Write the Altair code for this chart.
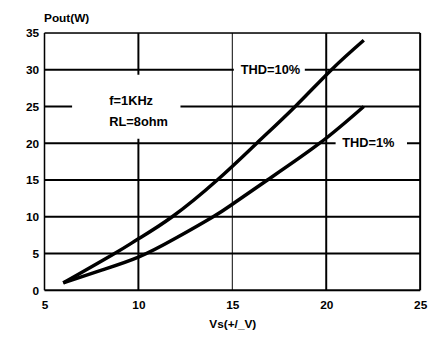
import altair as alt
import pandas as pd

# Curve data
thd10_x = [6, 8.73, 10, 11.8, 14.2, 16.3, 18.35, 20.28, 22]
thd10_y = [1, 5, 7, 10, 15, 20, 25, 30, 34]
thd1_x = [6, 8, 10, 12, 13.98, 15, 16.87, 19.65, 22]
thd1_y = [1, 2.7, 4.5, 7.1, 10, 11.7, 15, 20, 25]

x_ticks = [5, 10, 15, 20, 25]
y_ticks = [0, 5, 10, 15, 20, 25, 30, 35]

# Grid lines and frame (x=15 is drawn thinner in the original)
vgrid_x = [5, 10, 15, 20, 25]
vgrid_w = [1.5, 2, 1, 2, 2]
hgrid_y = [0, 5, 10, 15, 20, 25, 30, 35]
hgrid_w = [2, 2, 2, 2, 2, 2, 2, 1.5]

# Annotation labels and their white backing boxes
label_text = ["f=1KHz", "RL=8ohm", "THD=10%", "THD=1%"]
label_x = [8.45, 8.45, 15.45, 20.85]
label_y = [25.7, 22.9, 30, 20]
box_x1 = [6.47, 15.08, 20.5]
box_x2 = [12.24, 18.86, 24.3]
box_y1 = [20.6, 29.0, 19.0]
box_y2 = [29.3, 31.0, 21.0]

FONT = "Liberation Sans"
FS = 12

curves = pd.DataFrame(
    {"x": thd10_x + thd1_x,
     "y": thd10_y + thd1_y,
     "s": ["THD=10%"] * len(thd10_x) + ["THD=1%"] * len(thd1_x),
     "o": list(range(len(thd10_x))) + list(range(len(thd1_x)))}
)
vgrid = pd.DataFrame({"x": vgrid_x, "w": vgrid_w})
hgrid = pd.DataFrame({"y": hgrid_y, "w": hgrid_w})
boxes = pd.DataFrame({"x1": box_x1, "x2": box_x2, "y1": box_y1, "y2": box_y2})
labels = pd.DataFrame({"t": label_text, "x": label_x, "y": label_y})

xs = alt.Scale(domain=[5, 25], nice=False, zero=False)
ys = alt.Scale(domain=[0, 35], nice=False, zero=False)

xaxis = alt.Axis(values=x_ticks, grid=False, ticks=False, domain=False,
                 labelOverlap=False, labelFlush=False,
                 labelFont=FONT, labelFontSize=FS, labelFontWeight="bold",
                 labelColor="black", labelPadding=9,
                 title="Vs(+/_V)", titleFont=FONT, titleFontSize=FS,
                 titleFontWeight="bold", titleColor="black", titlePadding=9)
yaxis = alt.Axis(values=y_ticks, grid=False, ticks=False, domain=False,
                 labelOverlap=False, labelFlush=False,
                 labelFont=FONT, labelFontSize=FS, labelFontWeight="bold",
                 labelColor="black", labelPadding=6,
                 title="Pout(W)", titleFont=FONT, titleFontSize=FS,
                 titleFontWeight="bold", titleColor="black", titleAngle=0,
                 titleAnchor="end", titleAlign="left", titleBaseline="bottom",
                 titleX=-1, titleY=-9)

X = lambda f: alt.X(f, scale=xs, axis=xaxis)
Y = lambda f: alt.Y(f, scale=ys, axis=yaxis)

vg = alt.Chart(vgrid).mark_rule(color="black").encode(
    x=X("x:Q"),
    strokeWidth=alt.StrokeWidth("w:Q", scale=None, legend=None),
)
hg = alt.Chart(hgrid).mark_rule(color="black").encode(
    y=Y("y:Q"),
    strokeWidth=alt.StrokeWidth("w:Q", scale=None, legend=None),
)
bx = alt.Chart(boxes).mark_rect(color="white").encode(
    x=X("x1:Q"), x2="x2:Q", y=Y("y1:Q"), y2="y2:Q",
)
ln = alt.Chart(curves).mark_line(color="black", strokeWidth=3.5,
                                 interpolate="natural").encode(
    x=X("x:Q"), y=Y("y:Q"), detail="s:N", order="o:Q",
)
tx = alt.Chart(labels).mark_text(align="left", baseline="middle", font=FONT,
                                 fontSize=13, fontWeight="bold",
                                 color="black").encode(
    x=X("x:Q"), y=Y("y:Q"), text="t:N",
)

chart = alt.layer(vg, hg, bx, ln, tx).properties(
    width=381, height=261,
    autosize=alt.AutoSizeParams(type="none"),
    padding={"left": 37, "top": 23, "right": 10, "bottom": 40},
).configure_view(strokeWidth=0).configure(background="white")

chart.save("out.html", embed_options={"renderer": "svg", "actions": False})
